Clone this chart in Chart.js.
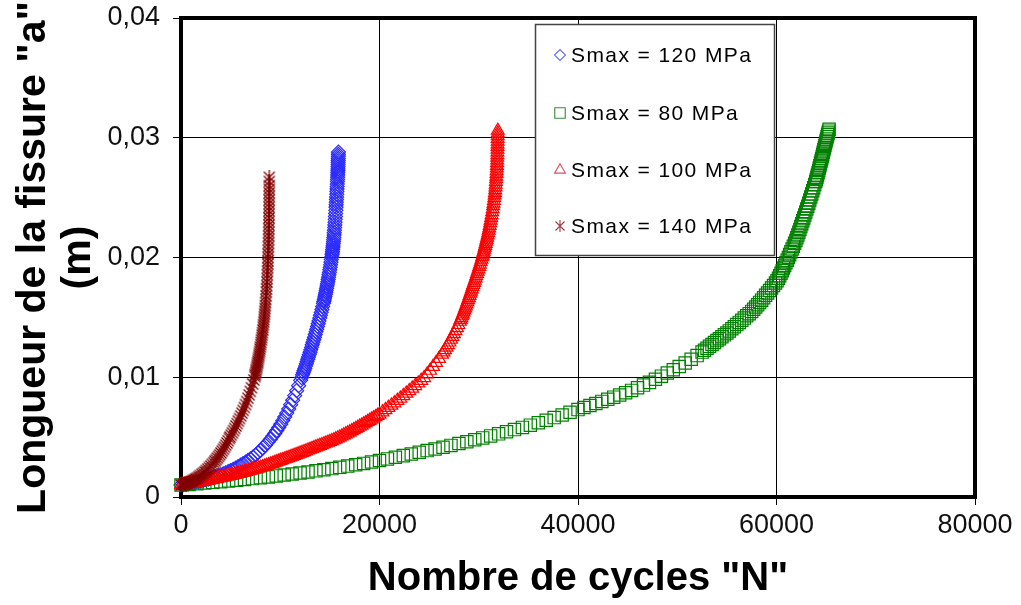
<!DOCTYPE html>
<html><head><meta charset="utf-8">
<script src="https://cdn.jsdelivr.net/npm/chart.js@4.4.1/dist/chart.umd.min.js"></script>
<style>html,body{margin:0;padding:0;background:#fff;overflow:hidden}canvas{display:block}</style>
</head><body>
<canvas id="c" width="1021" height="605"></canvas>
<script>
// ---- data (N = cycles, a = crack length in m) ----
const seriesLabels = ['Smax = 120 MPa', 'Smax = 80 MPa', 'Smax = 100 MPa', 'Smax = 140 MPa'];
const xTicks = [0, 20000, 40000, 60000, 80000];
const yTicks = [0, 0.01, 0.02, 0.03, 0.04];

const n120 = [0,250,500,750,1000,1250,1500,1750,2000,2250,2500,2750,3000,3250,3500,3750,4000,4250,
  4500,4750,5000,5250,5500,5750,6000,6250,6500,
  6750,7000,7250,7500,7750,8000,8250,8500,8750,9000,
  9250,9450,9650,9850,10050,10250,10450,10650,10850,11050,11250,11450,11650,11850,12050,
  12150,12250,12325,12400,12475,12550,12625,12700,12775,12850,12925,13000,13075,13150,13225,13300,13375,13450,13525,13600,13675,13750,13825,13900,13975,14050,14125,14200,14275,14350,
  14390,14430,14470,14510,14550,14590,14630,14670,14710,14750,14790,14830,14870,14910,14950,14990,15030,15070,15110,15150,15185,15220,
  15240,15260,15280,15300,15320,15340,15360,15380,15400,15420,15440,15460,15480,15500,15520,15540,15560,15580,15600,15620,
  15635,15650,15665,15680,15695,15710,15723,15735,15748,15760,15770,15780,15790,15800,15808,15815,15823,15830,15836,15842,15847,15852,15856,15860];
const a120 = [0.001,0.001029,0.001062,0.001098,0.001137,0.001179,0.001225,0.001273,0.001325,0.00138,0.001439,0.0015,0.001565,0.001633,0.001705,0.001779,0.001857,0.001938,
  0.002024,0.002114,0.00221,0.002312,0.002421,0.002535,0.002656,0.002784,0.002917,
  0.003051,0.003189,0.003342,0.003509,0.003691,0.003887,0.004098,0.004324,0.004564,0.004818,
  0.005085,0.00531,0.00555,0.00581,0.00608,0.00638,0.00668,0.00701,0.00735,0.00771,0.00808,0.00847,0.00888,0.0093,0.00974,
  0.00997,0.01021,0.01038,0.01056,0.01074,0.01093,0.01112,0.01131,0.0115,0.01169,0.01189,0.01209,0.01229,0.0125,0.01271,0.01292,0.01313,0.01335,0.01357,0.01379,0.01401,0.01424,0.01447,0.0147,0.01494,0.01518,0.01542,0.01566,0.01591,0.01617,
  0.01631,0.01646,0.01661,0.01677,0.01693,0.01709,0.01726,0.01743,0.01761,0.01779,0.01797,0.01816,0.01836,0.01856,0.01876,0.01897,0.01918,0.01939,0.01961,0.01984,0.02004,0.02024,
  0.02037,0.02051,0.02066,0.02081,0.02097,0.02114,0.02131,0.02149,0.02168,0.02187,0.02207,0.02228,0.0225,0.02272,0.02295,0.02319,0.02343,0.02368,0.02394,0.0242,
  0.02441,0.02462,0.02484,0.02506,0.02529,0.02552,0.02572,0.02592,0.02613,0.02634,0.02652,0.0267,0.02689,0.02708,0.02724,0.0274,0.02758,0.02776,0.02793,0.0281,0.02827,0.02845,0.02862,0.0288];

const n80 = [0,800,1600,2400,3200,4000,4800,5600,6400,7200,8000,8800,9600,10400,11200,12000,12800,13600,14400,15200,16000,16800,17600,18400,19200,20000,20800,21600,22400,23200,24000,24800,25600,26400,27200,28000,28800,29600,30400,31200,32000,32800,33600,34400,35200,36000,36800,37600,38400,39200,40000,
  40600,41200,41800,42400,43000,43600,44200,44800,45400,46000,46600,47200,47800,48400,49000,49600,50200,50800,51400,52000,
  52500,52750,53000,53250,53500,53750,54000,54250,54500,54750,55000,55250,55500,55750,56000,56250,56500,56750,57000,57250,
  57500,57700,57900,58100,58300,58500,58700,58900,59100,59300,59500,59700,59900,60050,60200,60325,60450,60575,60700,60825,60950,61075,61200,61325,61450,61575,61700,61825,61950,
  62050,62150,62250,62350,62450,62550,62650,62750,62850,62950,63050,63150,63250,63350,63450,63550,63650,63750,63850,63950,
  64010,64070,64130,64190,64250,64310,64370,64430,64490,64550,64605,64660,64715,64770,64825,64880,64935,64990,65045,65100,65150,65200,65250,65300];
const a80 = [0.001,0.001053,0.001108,0.001164,0.001222,0.001282,0.001342,0.001404,0.00147,0.001538,0.001608,0.00168,0.001762,0.001838,0.00192,0.002005,0.002093,0.002183,0.002275,0.002372,0.002475,0.002582,0.002693,0.002806,0.002922,0.00305,0.003183,0.003318,0.003455,0.003593,0.003733,0.003875,0.00401,0.00416,0.00431,0.004462,0.004617,0.004775,0.004935,0.005103,0.005275,0.00545,0.005628,0.00581,0.005998,0.006205,0.006415,0.00663,0.00685,0.007075,0.0073,
  0.00747,0.00764,0.007812,0.007985,0.00816,0.008338,0.00852,0.008705,0.0089,0.00912,0.009345,0.009572,0.00983,0.010093,0.01036,0.010625,0.0109,0.01119,0.0115,0.01181,
  0.0121,0.01226,0.01242,0.01258,0.01274,0.0129,0.01306,0.01322,0.01338,0.01354,0.0137,0.01387,0.01405,0.01422,0.0144,0.01458,0.01476,0.01494,0.01513,0.01531,
  0.0155,0.01568,0.01587,0.01606,0.01625,0.01644,0.01664,0.01684,0.01704,0.01724,0.01745,0.01766,0.01787,0.01806,0.01827,0.01848,0.01869,0.0189,0.01912,0.01934,0.01956,0.01978,0.02001,0.02024,0.02047,0.0207,0.02094,0.02118,0.02142,
  0.02164,0.02187,0.0221,0.02234,0.02258,0.02282,0.02306,0.0233,0.02354,0.02379,0.02404,0.02429,0.02454,0.0248,0.02505,0.02531,0.02557,0.02583,0.02609,0.02635,
  0.02652,0.0267,0.02689,0.02708,0.02727,0.02747,0.02766,0.02786,0.02805,0.02825,0.02843,0.02862,0.0288,0.02899,0.02917,0.02936,0.02954,0.02973,0.0299,0.03008,0.03024,0.0304,0.03055,0.0307];

const n100 = [0,200,400,600,800,1000,1200,1400,1600,1800,2000,2200,2400,2600,2800,3000,3200,3400,3600,3800,
  4000,4200,4400,4600,4800,5000,5200,5400,5600,5800,6000,6200,6400,6600,6800,7000,7200,7400,7600,7800,
  8000,8200,8400,8600,8800,9000,9200,9400,9600,9800,10000,10200,10400,10600,10800,11000,11200,11400,11600,11800,
  12000,12200,12400,12600,12800,13000,13200,13400,13600,13800,14000,14200,14400,14600,14800,15000,15200,15400,15600,15800,
  16000,16200,16400,16600,16800,17000,17200,17400,17600,17800,18000,18200,18400,18600,18800,19000,19200,19400,19600,19800,20000,
  20300,20600,20900,21200,21500,21800,22100,22400,22700,23000,23300,23600,23900,24200,24500,24800,25100,25400,25700,26000,26300,
  26450,26600,26750,26900,27050,27200,27350,27500,27650,27800,27950,28100,28175,28250,28325,28400,28475,28550,28625,28700,28775,28850,28925,29000,29075,29150,29225,29300,29375,29450,29525,29600,29675,29750,29825,29900,29975,30050,30125,30200,30275,30350,
  30400,30450,30500,30550,30600,30650,30700,30750,30800,30850,30900,30950,31000,31050,31100,31150,31200,31250,31300,31350,31400,31450,31490,31530,31565,31600,31630,31660,31685,31710,31730,31750,31770,31790,31805,31820,31833,31845,31855,31865,31873,31880,31886,31892,31897,31902,31906,31910,31913,31916];
const a100 = [0.001,0.001027,0.001054,0.001081,0.001108,0.001135,0.001163,0.001191,0.001219,0.001247,0.001276,0.001305,0.001335,0.001367,0.0014,0.001433,0.001467,0.001501,0.001535,0.00157,
  0.001605,0.001641,0.001677,0.001713,0.00175,0.001787,0.001825,0.001865,0.001905,0.001947,0.00199,0.002033,0.002077,0.002122,0.002167,0.002212,0.002258,0.002305,0.002352,0.002401,
  0.00245,0.002505,0.00256,0.002615,0.00267,0.00273,0.00279,0.00285,0.00291,0.00297,0.00303,0.00309,0.00315,0.00321,0.00327,0.00333,0.00339,0.00345,0.00351,0.003575,
  0.00364,0.003705,0.00377,0.003835,0.0039,0.003965,0.00403,0.004095,0.00416,0.004225,0.00429,0.004355,0.00442,0.004485,0.00455,0.004615,0.00468,0.004755,0.00483,0.00491,
  0.00499,0.005075,0.00516,0.005245,0.00533,0.00542,0.00551,0.005605,0.0057,0.005795,0.00589,0.005985,0.00608,0.00618,0.00628,0.00638,0.00648,0.00658,0.00668,0.00679,0.0069,
  0.00708,0.00727,0.00746,0.00765,0.00784,0.00804,0.00824,0.00844,0.00865,0.00886,0.00907,0.00928,0.0095,0.00972,0.00995,0.01025,0.01056,0.01088,0.01121,0.01155,0.0119,
  0.01209,0.01228,0.01249,0.0127,0.01292,0.01315,0.01338,0.01362,0.01387,0.01412,0.01438,0.01465,0.0148,0.01495,0.01511,0.01527,0.01543,0.0156,0.01577,0.01594,0.01611,0.01628,0.01645,0.01663,0.01681,0.01699,0.01717,0.01736,0.01754,0.01772,0.0179,0.01809,0.01827,0.01846,0.01865,0.01884,0.01903,0.01923,0.01943,0.01963,0.01984,0.02005,
  0.0202,0.02035,0.02051,0.02067,0.02083,0.02099,0.02116,0.02133,0.0215,0.02168,0.02186,0.02205,0.02225,0.02245,0.02266,0.02288,0.0231,0.02333,0.02356,0.0238,0.02405,0.0243,0.02452,0.02475,0.02497,0.0252,0.02542,0.02565,0.02587,0.0261,0.02632,0.02655,0.02677,0.027,0.02722,0.02745,0.02767,0.0279,0.02812,0.02835,0.02857,0.0288,0.02902,0.02925,0.02947,0.0297,0.02992,0.03015,0.03037,0.0306];

const n140 = [0,150,300,450,600,750,900,1050,1200,1350,1500,1650,1800,1950,2100,2250,2400,2550,2700,2850,3000,3150,3300,
  3430,3550,3670,3790,3910,4030,4150,4270,4390,4510,4630,4750,4870,
  4940,5060,5180,5300,5420,5540,5660,5780,5900,6020,6140,6260,6380,6500,6620,6740,6860,6980,7100,7220,7340,7440,
  7475,7510,7545,7580,7615,7650,7685,7720,7755,7790,7825,7860,7895,7930,7965,8000,8035,8070,8105,8140,8175,8210,8245,8280,8310,8340,8370,8400,
  8425,8450,8475,8500,8525,8550,8575,8600,8620,8640,8660,8680,8698,8715,8730,8745,8758,8770,8783,8795,8805,8815,8824,8832,8840,8847,8854,8860,8865,8870,8874,8878,8882,8885,8888,8890,8892,8894,8896,8897];
const a140 = [0.001,0.001028,0.001061,0.0011,0.001144,0.001193,0.001248,0.001309,0.001375,0.001446,0.001523,0.001606,0.001694,0.001787,0.001886,0.00199,0.002099,0.002215,0.002335,0.002461,0.002593,0.00273,0.002873,
  0.003,0.003123,0.003252,0.003388,0.00353,0.003677,0.003831,0.003992,0.004158,0.004331,0.00451,0.004695,0.004886,
  0.005,0.00517,0.00535,0.00554,0.00573,0.00593,0.00613,0.00634,0.00655,0.00677,0.007,0.00723,0.00747,0.00772,0.00798,0.00825,0.00853,0.00882,0.00912,0.00944,0.00977,0.01006,
  0.01019,0.01032,0.01046,0.0106,0.01074,0.01089,0.01104,0.01119,0.01134,0.0115,0.01166,0.01183,0.012,0.01217,0.01235,0.01253,0.01272,0.01291,0.01311,0.01331,0.01352,0.01373,0.01395,0.01417,0.01438,0.0146,0.01482,0.01505,
  0.01527,0.0155,0.01574,0.01598,0.01624,0.0165,0.0168,0.0171,0.01737,0.01765,0.01795,0.01825,0.01855,0.01885,0.01915,0.01945,0.01972,0.02,0.0203,0.0206,0.0209,0.0212,0.0215,0.0218,0.0221,0.0224,0.0227,0.023,0.0233,0.0236,0.0239,0.0242,0.0245,0.0248,0.0251,0.0254,0.0257,0.026,0.02635,0.0267];

// ---- styling ----
const FONT = '"Liberation Sans", Arial, Helvetica, sans-serif';
function pts(ns, as) { const out = []; for (let i = 0; i < Math.min(ns.length, as.length); i++) out.push({x: ns[i], y: as[i]}); return out; }
function makeStar(color, size, lw) {
  const c = document.createElement('canvas'); c.width = size; c.height = size;
  const g = c.getContext('2d'); g.strokeStyle = color; g.lineWidth = lw;
  const m = size / 2;
  g.beginPath();
  g.moveTo(1.5, 1.5); g.lineTo(size - 1.5, size - 1.5);
  g.moveTo(size - 1.5, 1.5); g.lineTo(1.5, size - 1.5);
  g.moveTo(m, 0); g.lineTo(m, size);
  g.stroke();
  return c;
}
const star = makeStar('#800000', 14, 1.25);
const starSmall = makeStar('#a04040', 12, 1.1);

const datasets = [
  {label: seriesLabels[0], data: pts(n120, a120), pointStyle: 'rectRot', pointRadius: 7, borderColor: '#2a2aff', order: 4, legendStyle: 'rectRot', legendRadius: 5.5, legendColor: '#6a6aff'},
  {label: seriesLabels[1], data: pts(n80, a80), pointStyle: 'rect', pointRadius: 8.7, borderColor: '#008000', order: 3, legendStyle: 'rect', legendRadius: 7.4, legendColor: '#3a8a3a'},
  {label: seriesLabels[2], data: pts(n100, a100), pointStyle: 'triangle', pointRadius: 7.4, borderColor: '#ff0000', order: 2, legendStyle: 'triangle', legendRadius: 6.3, legendColor: '#e05060'},
  {label: seriesLabels[3], data: pts(n140, a140), pointStyle: star, pointRadius: 7, borderColor: '#800000', order: 1, legendStyle: starSmall, legendRadius: 6, legendColor: '#a04040'}
].map(d => Object.assign({showLine: false, backgroundColor: 'rgba(0,0,0,0)', pointBackgroundColor: 'rgba(0,0,0,0)', pointBorderColor: d.borderColor, pointBorderWidth: 1.2, clip: false}, d));

const frame = {
  id: 'frame',
  beforeDatasetsDraw(chart) {
    const {ctx, chartArea: a} = chart;
    ctx.save();
    ctx.strokeStyle = '#000'; ctx.lineWidth = 4;
    ctx.strokeRect(a.left, a.top, a.right - a.left, a.bottom - a.top);
    ctx.restore();
  }
};

const legendBox = {
  id: 'legendBox',
  afterDraw(chart) {
    const ctx = chart.ctx;
    const box = {x: 535, y: 24, w: 240, h: 232};
    ctx.save();
    ctx.fillStyle = '#fff';
    ctx.fillRect(box.x, box.y, box.w, box.h);
    ctx.strokeStyle = '#444'; ctx.lineWidth = 1.5;
    ctx.strokeRect(box.x + 0.5, box.y + 0.5, box.w - 1, box.h - 1);
    const rows = [55, 113, 170, 226];
    chart.data.datasets.forEach((ds, i) => {
      const y = rows[i];
      ctx.save();
      ctx.strokeStyle = ds.legendColor; ctx.fillStyle = 'rgba(0,0,0,0)'; ctx.lineWidth = 1.1;
      Chart.helpers.drawPoint(ctx, {pointStyle: ds.legendStyle, radius: ds.legendRadius, borderWidth: 1.1, rotation: 0}, 560, y);
      ctx.restore();
      ctx.fillStyle = '#000';
      ctx.font = '21px ' + FONT;
      ctx.textBaseline = 'middle'; ctx.textAlign = 'left';
      if ('letterSpacing' in ctx) ctx.letterSpacing = '1.4px';
      ctx.fillText(ds.label, 571, y + 1);
    });
    ctx.restore();
  }
};

new Chart(document.getElementById('c'), {
  type: 'scatter',
  data: {datasets},
  plugins: [frame, legendBox],
  options: {
    responsive: false, animation: false, devicePixelRatio: 1, events: [],
    layout: {padding: {left: 0, top: 18, right: 46, bottom: 0}},
    plugins: {legend: {display: false}, tooltip: {enabled: false}},
    scales: {
      x: {
        type: 'linear', min: 0, max: 80000,
        afterBuildTicks: s => { s.ticks = xTicks.map(v => ({value: v})); },
        afterFit: s => { s.height = 108; s.paddingLeft = 0; s.paddingRight = 0; },
        grid: {color: '#000', lineWidth: 1, tickLength: 8, tickColor: '#000'},
        border: {display: false},
        ticks: {font: {family: FONT, size: 27}, color: '#111', padding: 4, maxRotation: 0, autoSkip: false, callback: v => String(v)},
        title: {display: true, text: 'Nombre de cycles "N"', color: '#000', font: {family: FONT, size: 40, weight: 'bold', lineHeight: 1.12}, padding: {top: 0, bottom: 4}}
      },
      y: {
        type: 'linear', min: 0, max: 0.04,
        afterBuildTicks: s => { s.ticks = yTicks.map(v => ({value: v})); },
        afterFit: s => { s.width = 181; s.paddingTop = 0; s.paddingBottom = 0; },
        grid: {color: '#000', lineWidth: 1, tickLength: 8, tickColor: '#000'},
        border: {display: false},
        ticks: {font: {family: FONT, size: 27}, color: '#111', padding: 13, callback: v => v === 0 ? '0' : v.toFixed(2).replace('.', ',')},
        title: {display: true, text: ['Longueur de la fissure "a"', '(m)'], color: '#000', font: {family: FONT, size: 41, weight: 'bold', lineHeight: 1.1}, padding: {top: 11, bottom: 0}}
      }
    }
  }
});
</script>
</body></html>
